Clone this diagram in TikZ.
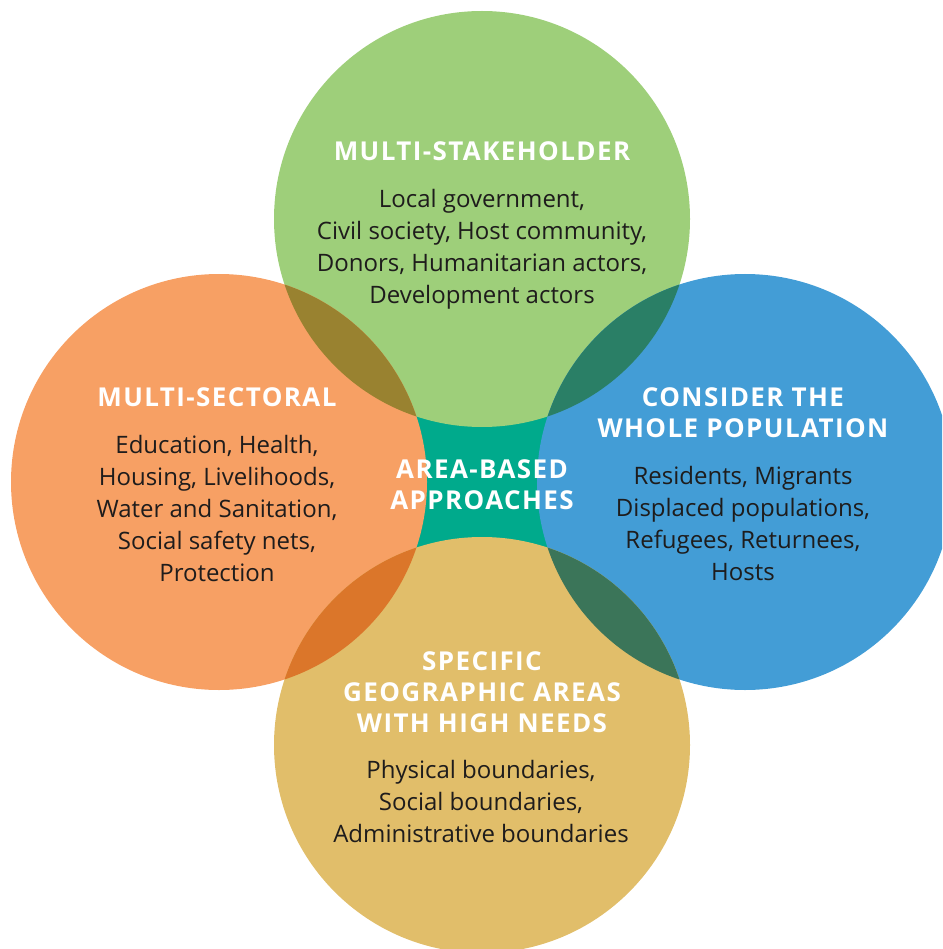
\documentclass[tikz,border=0pt]{standalone}
\usepackage{fontspec}
\setmainfont{Open Sans}
\newfontfamily\headfont[LetterSpace=5.4]{Open Sans}
\usepackage{tikz}
\usetikzlibrary{positioning}
\definecolor{stakegreen}{RGB}{158,207,122}
\definecolor{sectorange}{RGB}{247,160,100}
\definecolor{popblue}{RGB}{67,157,214}
\definecolor{geoyellow}{RGB}{225,190,106}
\definecolor{abateal}{RGB}{0,170,140}
\definecolor{stakesector}{RGB}{153,130,48}
\definecolor{stakepopn}{RGB}{42,127,102}
\definecolor{geosector}{RGB}{219,118,42}
\definecolor{geopopn}{RGB}{59,117,89}
\definecolor{bodyink}{RGB}{30,28,28}

\begin{document}
\begin{tikzpicture}[x=1pt,y=-1pt,
  ring/.style={circle,minimum size=416pt,inner sep=0pt},
  head/.style={text=white,font=\headfont\bfseries\fontsize{26}{31}\selectfont,align=center,inner sep=0pt},
  body/.style={text=bodyink,font=\fontsize{24}{32}\selectfont,align=center,inner sep=0pt}]
\useasboundingbox (0,0) rectangle (942,949);
\clip (0,0) rectangle (942,949);
% centre patch and the four circles
\fill[abateal] (416,416) rectangle (548,548);
\node[ring,fill=stakegreen] (stake) at (482,219) {};
\node[ring,fill=sectorange] (sector) at (219,482) {};
\node[ring,fill=popblue] (popn) at (745,482) {};
\node[ring,fill=geoyellow] (geo) at (482,745) {};
\foreach \a/\b/\c in {stake/sector/stakesector,stake/popn/stakepopn,geo/sector/geosector,geo/popn/geopopn}{
  \begin{scope}
    \clip (\a.center) circle (208pt);
    \fill[\c] (\b.center) circle (208pt);
  \end{scope}}
% texts
\node[head] (stakehead) at (482,151) {MULTI-STAKEHOLDER};
\node[body] (stakebody) at (482,249) {Local government,\\Civil society, Host community,\\Donors, Humanitarian actors,\\Development actors};
\node[head] (sectorhead) at (217,397) {MULTI-SECTORAL};
\node[body] (sectorbody) at (217,508) {Education, Health,\\Housing, Livelihoods,\\Water and Sanitation,\\Social safety nets,\\Protection};
\node[head] (popnhead) at (743,413) {CONSIDER THE\\WHOLE POPULATION};
\node[body] (popnbody) at (743,523) {Residents, Migrants\\Displaced populations,\\Refugees, Returnees,\\Hosts};
\node[head] (abahead) at (482,485) {AREA-BASED\\APPROACHES};
\node[head] (geohead) at (482,692) {SPECIFIC\\GEOGRAPHIC AREAS\\WITH HIGH NEEDS};
\node[body] (geobody) at (481,801) {Physical boundaries,\\Social boundaries,\\Administrative boundaries};
\end{tikzpicture}
\end{document}
